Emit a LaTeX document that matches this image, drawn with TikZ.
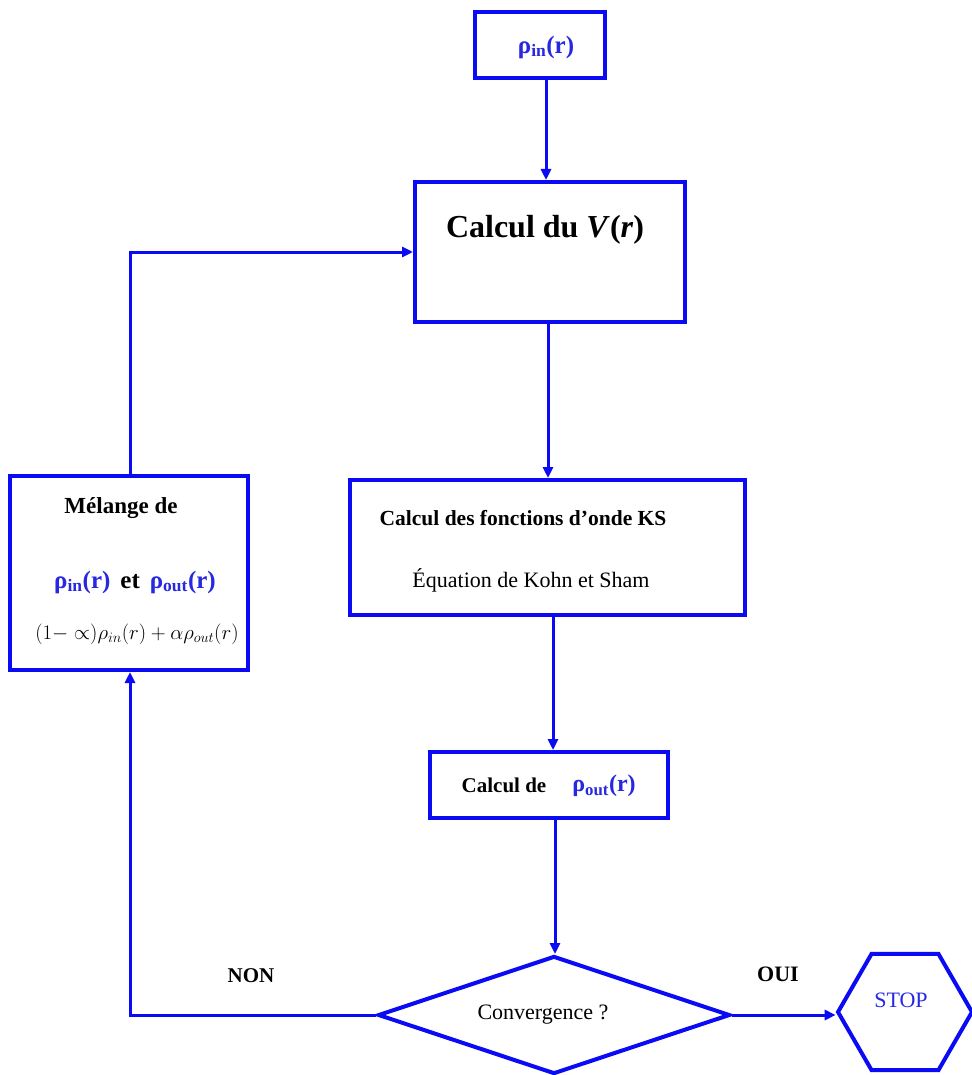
\documentclass[tikz,border=0pt]{standalone}
\usepackage{fontspec}
\setmainfont{Liberation Serif}
\usetikzlibrary{arrows.meta,shapes.geometric}
\definecolor{lineblue}{RGB}{10,10,245}
\definecolor{txtblue}{RGB}{40,40,225}
\tikzset{
  box/.style={draw=lineblue, line width=4pt, inner sep=0pt, fill=white},
  conn/.style={draw=lineblue, line width=3pt, -{Triangle[length=11pt,width=10pt]}},
  lbl/.style={inner sep=0pt, text=black},
}
\newcommand{\rh}[1]{{\color{txtblue}\bfseries ρ\textsubscript{#1}(r)}}
\begin{document}
\begin{tikzpicture}[x=1pt,y=-1pt]
\useasboundingbox (0,0) rectangle (971,1075);
% boxes
\node[box, minimum width=130pt, minimum height=66pt] (rin) at (540,45) {};
\node[box, minimum width=270pt, minimum height=140pt] (vr) at (550,252) {};
\node[box, minimum width=395pt, minimum height=135pt] (ks) at (547.5,547.5) {};
\node[box, minimum width=238pt, minimum height=66pt] (rout) at (549,785) {};
\node[box, minimum width=238pt, minimum height=194pt] (mel) at (129,573) {};
\node[draw=lineblue, line width=4pt, diamond, aspect=2.98, minimum width=352pt, minimum height=118pt, inner sep=0pt] (conv) at (554,1015) {};
\node[draw=lineblue, line width=4pt, regular polygon, regular polygon sides=6, minimum size=134pt, inner sep=0pt] (stop) at (905,1012) {};
% texts
\node[lbl] (trin) at (546,47) {\fontsize{25}{30}\selectfont\rh{in}};
\node[lbl] (tvr) at (545,230) {\fontsize{32}{36}\selectfont\bfseries Calcul du \textit{V}(\textit{r})};
\node[lbl] (tks1) at (523,518) {\fontsize{21.5}{25}\selectfont\bfseries Calcul des fonctions d’onde KS};
\node[lbl] (tks2) at (531,580) {\fontsize{22}{26}\selectfont Équation de Kohn et Sham};
\node[lbl] (tcal) at (504,785) {\fontsize{21}{25}\selectfont\bfseries Calcul de};
\node[lbl] (trout) at (604,786) {\fontsize{24}{28}\selectfont\rh{out}};
\node[lbl] (tmel1) at (121,508) {\fontsize{23}{27}\selectfont\bfseries Mélange de};
\node[lbl] (tmel2) at (135,582) {\fontsize{25}{30}\selectfont\rh{in}\hspace{10pt}{\bfseries et}\hspace{10pt}\rh{out}};
\node[lbl] (tmel3) at (137,634) {\fontsize{20.5}{24}\selectfont$(1-\propto)\rho_{in}(r)+\alpha\rho_{out}(r)$};
\node[lbl] (tconv) at (543,1015) {\fontsize{22}{26}\selectfont Convergence ?};
\node[lbl, text=txtblue] (tstop) at (901,1000) {\fontsize{22}{26}\selectfont STOP};
\node[lbl] (tnon) at (251,976) {\fontsize{21}{25}\selectfont\bfseries NON};
\node[lbl] (toui) at (778,974) {\fontsize{22}{26}\selectfont\bfseries OUI};
% connectors
\draw[conn] (rin.south -| 546,0) -- (vr.north -| 546,0);
\draw[conn] (vr.south -| 548,0) -- (ks.north -| 548,0);
\draw[conn] (ks.south -| 553,0) -- (rout.north -| 553,0);
\draw[conn] (rout.south -| 555,0) -- (conv.north -| 555,0);
\coordinate (c1) at (130,1015);
\coordinate (c2) at (130,252);
\draw[conn] (conv.west) -- (c1) -- (mel.south -| c1);
\draw[conn] (mel.north -| c2) -- (c2) -- (vr.west |- c2);
\draw[conn] (conv.east) -- (stop.west |- conv.east);
\end{tikzpicture}
\end{document}
